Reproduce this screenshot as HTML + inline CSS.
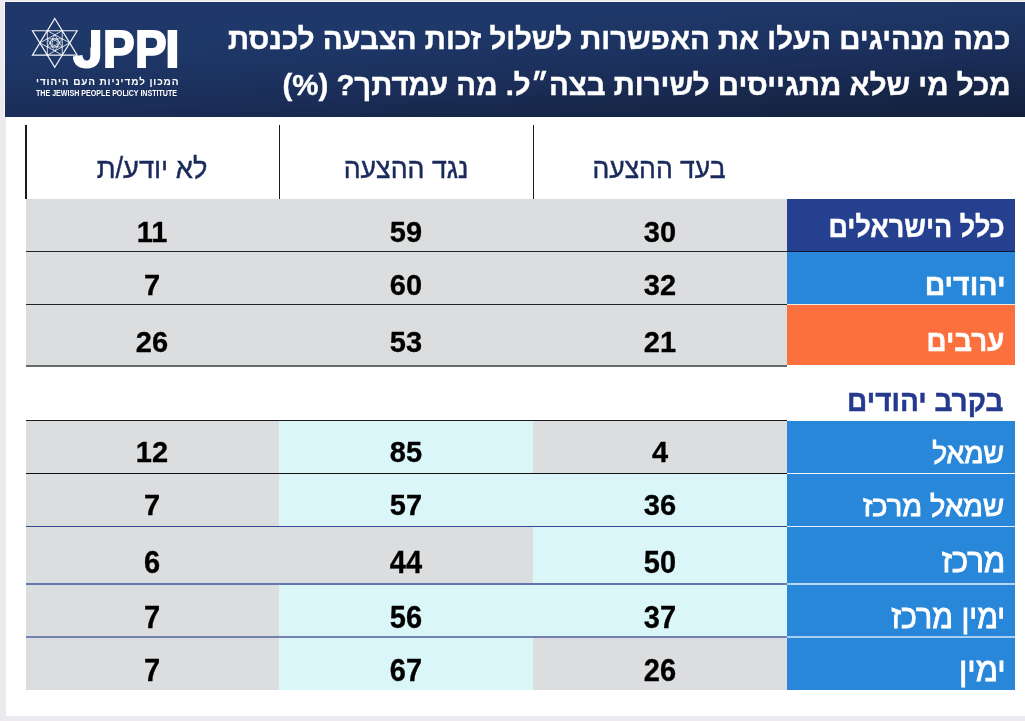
<!DOCTYPE html>
<html lang="he">
<head>
<meta charset="utf-8">
<title>JPPI</title>
<style>
html,body{margin:0;padding:0}
body{width:1025px;height:721px;overflow:hidden;position:relative;background:#ECEAEF;
 font-family:"Liberation Sans","DejaVu Sans",sans-serif}
.abs,.abs *{position:absolute}
#panel{left:6px;top:117px;width:1019px;height:599px;background:#fff}
#hdrline{left:4px;top:1px;width:1021px;height:116px;background:#F8F4F8}
#hdr{left:5px;top:2px;width:1020px;height:115px;
 background:linear-gradient(176.45deg,#1F3869 0%,#1E3869 29%,#1D3463 45%,#1B2D58 64.5%,#172749 81%,#13203D 100%)}
.t{position:absolute;white-space:nowrap;line-height:1;direction:rtl}
#jppi span{position:absolute;line-height:1}
.title{right:14.5px;color:#fff;font-weight:bold;font-size:29.4px;-webkit-text-stroke:0.4px #fff}
.cell{position:absolute}
.g{background:#DCDDDF}
.c{background:#DAF6F9}
.ln{position:absolute;height:1px}
.vl{position:absolute;width:1.4px;background:#1a1a1a;top:125px;height:74px}
.num{position:absolute;width:120px;text-align:center;font-weight:bold;font-size:29px;line-height:1;color:#000;direction:ltr}
.num{-webkit-text-stroke:0.3px #000}
.s{transform:scaleY(1.05)}
.hd{position:absolute;width:200px;text-align:center;font-size:29px;line-height:1;color:#1B2A5C;direction:rtl;white-space:nowrap}
.lb{position:absolute;right:20px;color:#fff;font-size:29px;line-height:1;white-space:nowrap;direction:rtl;transform-origin:100% 50%}
.b{font-weight:bold;-webkit-text-stroke:0.45px currentColor}
.m{-webkit-text-stroke:0.9px #fff}
.hd{-webkit-text-stroke:0.45px #1B2A5C}
</style>
</head>
<body>
<div id="hdrline" class="abs"></div>
<div id="panel" class="abs"></div>
<div id="hdr" class="abs"></div>

<!-- logo -->
<svg class="abs" style="left:25px;top:10px" width="70" height="66" viewBox="25 10 70 66" fill="none" stroke="#fff">
 <g transform="translate(54.8,42.9) scale(1.06,1)">
  <g stroke-width="1.15" stroke-opacity="0.95">
   <polygon points="0,-24.4 21.13,12.2 -21.13,12.2"/>
   <polygon points="0,24.4 21.13,-12.2 -21.13,-12.2"/>
  </g>
  <g stroke-width="0.9" stroke-opacity="0.85">
   <polygon points="-14.09,0 7.04,-12.2 7.04,12.2"/>
   <polygon points="14.09,0 -7.04,-12.2 -7.04,12.2"/>
  </g>
  <g stroke-width="0.8" stroke-opacity="0.8">
   <polygon points="0,-8.13 7.04,4.07 -7.04,4.07"/>
   <polygon points="0,8.13 7.04,-4.07 -7.04,-4.07"/>
  </g>
  <g stroke-width="0.7" stroke-opacity="0.75">
   <polygon points="-4.7,0 2.35,-4.07 2.35,4.07"/>
   <polygon points="4.7,0 -2.35,-4.07 -2.35,4.07"/>
   <circle r="4.3"/>
  </g>
 </g>
</svg>
<div class="t" id="jppi" style="left:0;top:23.6px;width:200px;height:52px;direction:ltr;color:#fff;font-weight:bold;font-size:51.5px;-webkit-text-stroke:2px #fff"><span style="left:72.8px;top:0;transform-origin:0 50%;transform:scaleX(1.04);clip-path:polygon(0 24px,17.3px 24px,17.3px 0,100% 0,100% 100%,0 100%)">J</span><span style="left:102.6px;top:0;transform-origin:0 50%;transform:scaleX(0.92)">P</span><span style="left:135.0px;top:0;transform-origin:0 50%;transform:scaleX(0.92)">P</span><span style="left:165.3px;top:0">I</span></div>
<div class="t" id="subhe" style="left:36px;top:76.5px;color:#fff;font-weight:bold;font-size:10px;letter-spacing:0.88px">המכון למדיניות העם היהודי</div>
<div class="t" id="suben" style="left:35.9px;top:89.7px;direction:ltr;color:#fff;font-weight:bold;font-size:8.2px;transform-origin:0 50%;transform:scaleX(0.867)">THE JEWISH PEOPLE POLICY INSTITUTE</div>

<!-- title -->
<div class="t title" id="t1" style="top:24.4px">כמה מנהיגים העלו את האפשרות לשלול זכות הצבעה לכנסת</div>
<div class="t title" id="t2" style="top:69.5px">מכל מי שלא מתגייסים לשירות בצה״ל. מה עמדתך? (%)</div>

<!-- column header -->
<div class="vl" style="left:25.3px"></div>
<div class="vl" style="left:279px"></div>
<div class="vl" style="left:532.5px"></div>
<div class="hd" id="h3" style="left:52.3px;top:153.6px;transform:scaleX(0.94)">לא יודע/ת</div>
<div class="hd" id="h2" style="left:306.2px;top:153.6px;transform:scaleX(0.92)">נגד ההצעה</div>
<div class="hd" id="h1" style="left:559.3px;top:153.6px;transform:scaleX(0.915)">בעד ההצעה</div>

<!-- table 1 -->
<div class="cell g" style="left:26px;top:199px;width:761px;height:166px"></div>
<div class="cell" style="left:787px;top:199px;width:228px;height:53px;background:#25408F"></div>
<div class="cell" style="left:787px;top:252px;width:228px;height:53px;background:#2987DA"></div>
<div class="cell" style="left:787px;top:305px;width:228px;height:60px;background:#FB703C"></div>
<div class="ln" style="left:26px;top:251px;width:989px;height:1.3px;background:#222"></div>
<div class="ln" style="left:787px;top:251px;width:228px;height:1.3px;background:#0B1838"></div>
<div class="ln" style="left:26px;top:304px;width:761px;background:#222"></div>
<div class="ln" style="left:787px;top:304px;width:228px;background:#F5E9E0"></div>
<div class="ln" style="left:26px;top:365px;width:761px;height:2px;background:#686A6A"></div>

<div class="lb b" id="l1" style="top:213.3px;transform:scaleX(0.929)">כלל הישראלים</div>
<div class="lb b" id="l2" style="top:271.0px;transform:scaleX(0.98)">יהודים</div>
<div class="lb b" id="l3" style="top:327.2px;transform:scaleX(0.956);margin-right:0.8px">ערבים</div>

<div class="num" id="n11" style="left:600px;top:217.7px">30</div>
<div class="num" id="n12" style="left:346px;top:217.7px">59</div>
<div class="num" id="n13" style="left:92px;top:217.7px">11</div>
<div class="num" id="n21" style="left:600px;top:271.0px">32</div>
<div class="num" id="n22" style="left:346px;top:271.0px">60</div>
<div class="num" id="n23" style="left:92px;top:271.0px">7</div>
<div class="num" id="n31" style="left:600px;top:327.8px">21</div>
<div class="num" id="n32" style="left:346px;top:327.8px">53</div>
<div class="num" id="n33" style="left:92px;top:327.8px">26</div>

<!-- section title -->
<div class="lb b" id="sec" style="top:386px;color:#253A8E;font-size:30px;transform:scaleX(0.934);margin-right:1.5px">בקרב יהודים</div>

<!-- table 2 -->
<div class="cell g" style="left:26px;top:421px;width:761px;height:269px"></div>
<div class="cell" style="left:787px;top:421px;width:228px;height:269px;background:#2987DA"></div>
<div class="cell c" style="left:279px;top:421px;width:254px;height:53px"></div>
<div class="cell c" style="left:279px;top:474px;width:508px;height:53px"></div>
<div class="cell c" style="left:533px;top:527px;width:254px;height:57px"></div>
<div class="cell c" style="left:279px;top:584px;width:508px;height:53px"></div>
<div class="cell c" style="left:279px;top:637px;width:254px;height:53px"></div>

<div class="ln" style="left:26px;top:420px;width:761px;background:#1a1a1a"></div>
<div class="ln" style="left:26px;top:473px;width:761px;background:#111"></div>
<div class="ln" style="left:787px;top:473px;width:228px;background:#F4F8FD"></div>
<div class="ln" style="left:26px;top:526px;width:761px;background:#354A94"></div>
<div class="ln" style="left:787px;top:526px;width:228px;background:#E6EBF8"></div>
<div class="ln" style="left:26px;top:583px;width:761px;height:1.5px;background:#6277B0"></div>
<div class="ln" style="left:787px;top:583px;width:228px;height:1.5px;background:#B5D5F2"></div>
<div class="ln" style="left:26px;top:636px;width:761px;height:1.7px;background:#7281B0"></div>
<div class="ln" style="left:787px;top:636px;width:228px;height:1.7px;background:#A8CFF0"></div>

<div class="lb m" id="m1" style="top:438.5px;transform:scaleX(0.97);margin-right:1.0px">שמאל</div>
<div class="lb m" id="m2" style="top:492px;margin-right:0.8px">שמאל מרכז</div>
<div class="lb m" id="m3" style="top:544.4px;font-size:33px;transform:scaleX(0.946)">מרכז</div>
<div class="lb m" id="m4" style="top:599.5px;font-size:33px;transform:scaleX(0.917)">ימין מרכז</div>
<div class="lb m" id="m5" style="top:653.2px;font-size:33px;transform:scaleX(0.98);margin-right:-1.0px">ימין</div>

<div class="num" id="p11" style="left:600px;top:438.4px">4</div>
<div class="num" id="p12" style="left:346px;top:438.4px">85</div>
<div class="num" id="p13" style="left:92px;top:438.4px">12</div>
<div class="num" id="p21" style="left:600px;top:491px">36</div>
<div class="num" id="p22" style="left:346px;top:491px">57</div>
<div class="num" id="p23" style="left:92px;top:491px">7</div>
<div class="num s" id="p31" style="left:600px;top:549.0px">50</div>
<div class="num s" id="p32" style="left:346px;top:549.0px">44</div>
<div class="num s" id="p33" style="left:92px;top:549.0px">6</div>
<div class="num s" id="p41" style="left:600px;top:603.7px">37</div>
<div class="num s" id="p42" style="left:346px;top:603.7px">56</div>
<div class="num s" id="p43" style="left:92px;top:603.7px">7</div>
<div class="num s" id="p51" style="left:600px;top:656.6px">26</div>
<div class="num s" id="p52" style="left:346px;top:656.6px">67</div>
<div class="num s" id="p53" style="left:92px;top:656.6px">7</div>
</body>
</html>
